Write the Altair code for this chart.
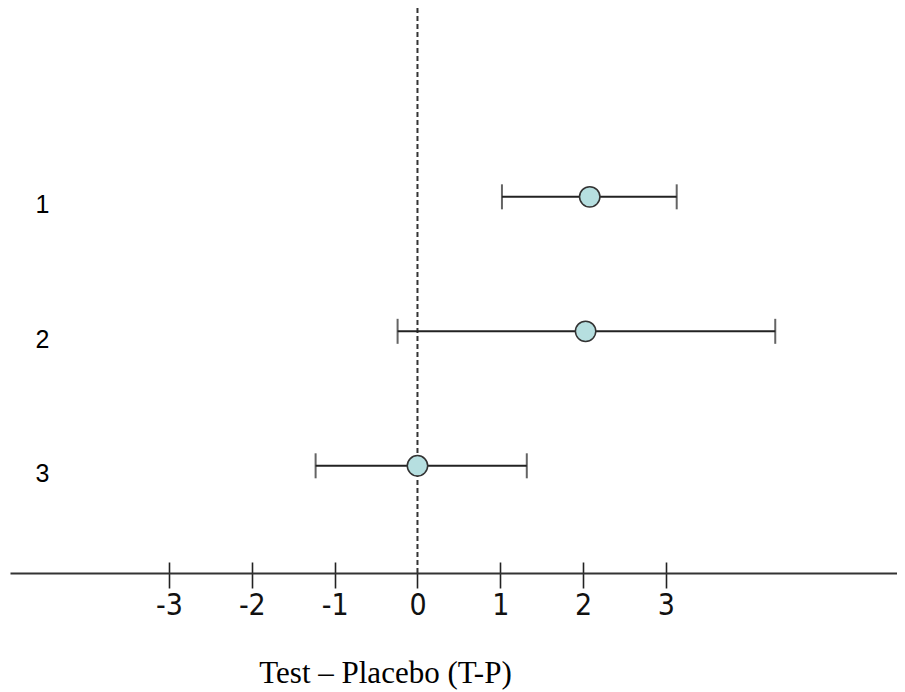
import altair as alt
import pandas as pd

# ---- data ----
rows = [1, 2, 3]
estimates = [2.08, 2.03, 0.0]
lower = [1.02, -0.24, -1.23]
upper = [3.13, 4.32, 1.32]
tick_values = [-3, -2, -1, 0, 1, 2, 3]
upper_tick_values = [-3, -2, -1, 1, 2, 3]
reference_value = [0]

df = pd.DataFrame({"row": rows, "est": estimates, "lo": lower, "hi": upper})
ref = pd.DataFrame({"x": reference_value})

W, H = 887, 565
xscale = alt.Scale(domain=[-4.92, 5.79], nice=False, zero=False)
yscale = alt.Scale(domain=[-0.404, 3.797], nice=False, zero=False, reverse=True)

label_font = "DejaVu Sans Condensed, Liberation Sans Narrow, Arial Narrow, Liberation Sans, Arial"

# dashed reference line at 0, carries the upward half of the tick marks
ref_rule = alt.Chart(ref).mark_rule(
    color="#333333", strokeWidth=2, strokeDash=[5, 3]
).encode(
    x=alt.X("x:Q", scale=xscale,
            axis=alt.Axis(orient="top", offset=-H, values=upper_tick_values,
                          domain=False, labels=False, grid=False, title=None,
                          tickSize=11, tickWidth=1.6, tickColor="#222222"))
)

bars = alt.Chart(df).mark_rule(color="#222222", strokeWidth=2).encode(
    x=alt.X("lo:Q", scale=xscale, axis=None),
    x2="hi:Q",
    y=alt.Y("row:Q", scale=yscale, axis=None),
)

cap_lo = alt.Chart(df).mark_tick(color="#222222", thickness=2, size=25,
                                 orient="vertical").encode(
    x=alt.X("lo:Q", scale=xscale, axis=None),
    y=alt.Y("row:Q", scale=yscale, axis=None),
)
cap_hi = alt.Chart(df).mark_tick(color="#222222", thickness=2, size=25,
                                 orient="vertical").encode(
    x=alt.X("hi:Q", scale=xscale, axis=None),
    y=alt.Y("row:Q", scale=yscale, axis=None),
)

points = alt.Chart(df).mark_point(
    shape="circle", filled=True, size=415, fill="#b6dfe0", opacity=1,
    stroke="#333333", strokeWidth=1.5
).encode(
    x=alt.X("est:Q", scale=xscale,
            axis=alt.Axis(orient="bottom", values=tick_values, grid=False,
                          domain=True, domainColor="#333333", domainWidth=2,
                          tickSize=15, tickWidth=1.6, tickColor="#222222",
                          labelExpr="'' + datum.value",
                          labelFont=label_font, labelFontSize=30,
                          labelColor="#111111", labelPadding=2,
                          labelFlush=False,
                          title="Test – Placebo (T-P)",
                          titleFont="Liberation Serif, Times New Roman, serif",
                          titleFontSize=31, titleFontWeight="normal",
                          titleColor="#000000", titleX=375, titleY=109,
                          titleAlign="center", titleBaseline="alphabetic")),
    y=alt.Y("row:Q", scale=yscale,
            axis=alt.Axis(orient="left", offset=-32, values=rows, format="d",
                          domain=False, ticks=False, grid=False, title=None,
                          labelFont="Liberation Sans, Arial", labelFontSize=25,
                          labelColor="#000000", labelAlign="center",
                          labelPadding=0, labelOffset=8)),
)

chart = alt.layer(ref_rule, bars, cap_lo, cap_hi, points).resolve_axis(
    x="independent", y="independent"
).properties(
    width=W, height=H,
    autosize=alt.AutoSizeParams(type="none"),
    padding={"left": 2, "right": 0, "top": 0, "bottom": 119},
    background="white",
).configure_view(stroke=None)

chart.save("out.html", embed_options={"renderer": "svg", "actions": False})
